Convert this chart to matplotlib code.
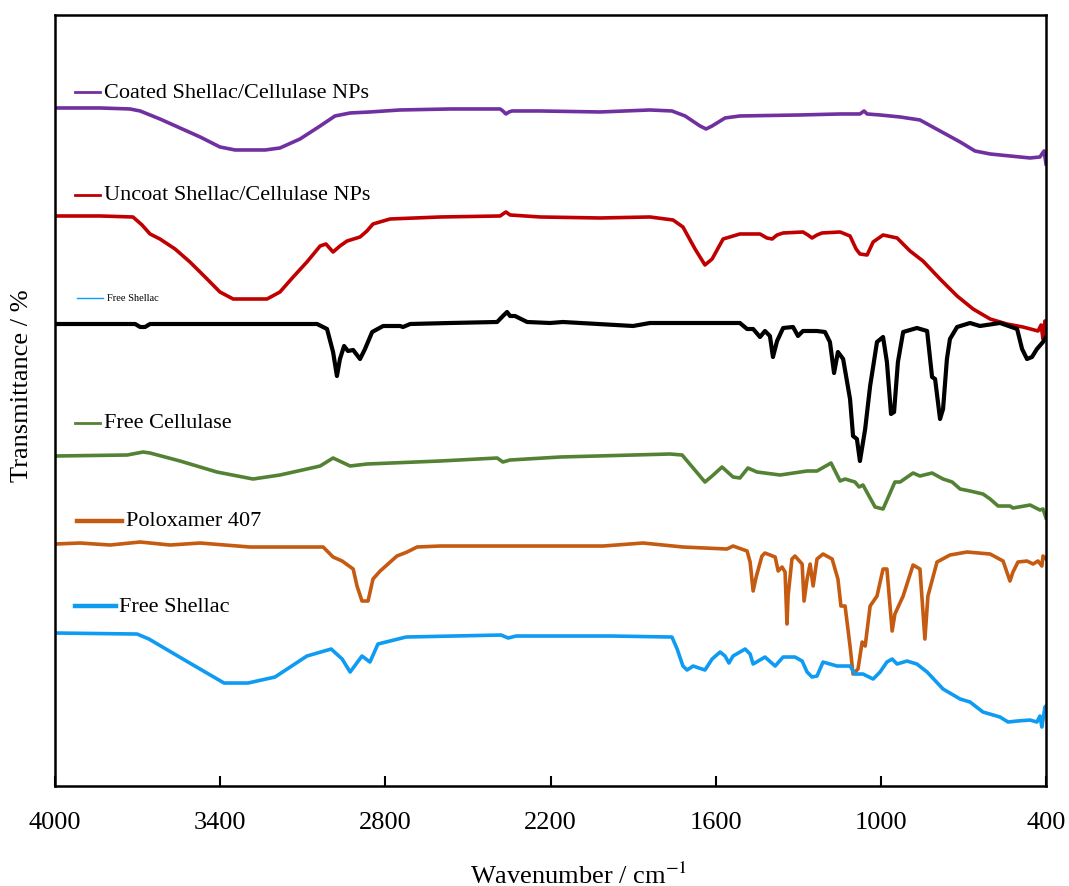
import matplotlib.pyplot as plt
import numpy as np

plt.rcParams['font.family'] = ['Liberation Serif', 'DejaVu Serif']
plt.rcParams['mathtext.fontset'] = 'stix'

# spectra: wavenumber (cm-1) and stacked transmittance (a.u.)
coated_w = [4000, 3837, 3728, 3691, 3619, 3546, 3473, 3401, 3346, 3237, 3183, 3110, 3037, 2983,
            2928, 2856, 2747, 2565, 2383, 2373, 2362, 2351, 2340, 2238, 2020, 1839, 1759, 1711,
            1657, 1635, 1613, 1566, 1512, 1294, 1148, 1076, 1061, 1050, 1003, 930, 858, 785, 712,
            658, 603, 531, 458, 422, 415, 407, 400]
coated_t = [678, 678, 677, 675, 667, 658, 649, 639, 636, 636, 638, 647, 660, 670,
            673, 674, 676, 677, 677, 675, 672, 674, 675, 675, 674, 676, 675, 670,
            660, 657, 660, 668, 670, 671, 672, 672, 675, 672, 671, 669, 666, 655, 644,
            635, 632, 630, 628, 629, 632, 635, 622]

uncoat_w = [4000, 3837, 3717, 3684, 3655, 3619, 3564, 3510, 3455, 3401, 3353, 3230, 3183, 3135,
            3085, 3037, 3016, 2990, 2965, 2939, 2892, 2867, 2845, 2783, 2601, 2383, 2373, 2362,
            2347, 2238, 2020, 1839, 1755, 1719, 1675, 1639, 1613, 1573, 1512, 1439, 1414, 1395,
            1377, 1355, 1283, 1265, 1250, 1232, 1214, 1148, 1112, 1090, 1076, 1050, 1028, 992,
            941, 894, 847, 785, 723, 665, 603, 542, 484, 429, 418, 411, 404, 400]
uncoat_t = [570, 570, 569, 561, 552, 547, 537, 524, 509, 494, 487, 487, 494, 509,
            524, 540, 542, 534, 540, 545, 549, 555, 562, 567, 569, 570, 572, 574,
            571, 569, 568, 569, 566, 559, 537, 521, 527, 547, 552, 552, 548, 547,
            551, 553, 554, 551, 548, 551, 553, 554, 550, 537, 532, 531, 544, 551,
            548, 535, 525, 507, 490, 477, 467, 462, 459, 455, 461, 447, 465, 452]

black_w = [4000, 3709, 3691, 3673, 3655, 3048, 3012, 2990, 2976, 2965, 2950, 2936, 2917, 2892,
           2874, 2848, 2808, 2747, 2736, 2710, 2565, 2394, 2373, 2358, 2347, 2329, 2285, 2202,
           2155, 1900, 1839, 1512, 1486, 1464, 1439, 1421, 1403, 1392, 1377, 1355, 1319, 1301,
           1283, 1232, 1203, 1185, 1170, 1156, 1137, 1112, 1101, 1087, 1076, 1057, 1039, 1014,
           992, 978, 963, 952, 938, 919, 869, 832, 814, 803, 785, 774, 760, 749, 723, 676, 640,
           567, 505, 487, 469, 451, 433, 411, 400]
black_t = [462, 462, 459, 459, 462, 462, 457, 434, 410, 427, 440, 435, 436, 427,
           437, 454, 460, 460, 459, 462, 463, 464, 470, 474, 470, 470, 464, 463,
           464, 460, 463, 463, 457, 457, 449, 455, 450, 429, 445, 458, 459, 450,
           455, 455, 454, 444, 413, 434, 427, 387, 350, 347, 325, 357, 400, 444,
           449, 424, 372, 374, 424, 454, 458, 455, 409, 407, 367, 377, 427, 447, 459, 463, 460,
           463, 457, 437, 427, 429, 437, 444, 449]

cellulase_w = [4000, 3738, 3680, 3655, 3546, 3412, 3281, 3183, 3085, 3037, 2990, 2928, 2867, 2601,
               2394, 2373, 2347, 2165, 1766, 1722, 1639, 1613, 1577, 1537, 1512, 1483, 1450, 1366,
               1268, 1232, 1181, 1148, 1130, 1094, 1079, 1065, 1021, 992, 949, 930, 883, 858, 814,
               774, 741, 712, 676, 629, 603, 574, 531, 520, 458, 422, 411, 400]
cellulase_t = [330, 331, 334, 333, 325, 314, 307, 311, 317, 320, 328, 320, 322, 325,
               328, 324, 326, 329, 332, 331, 304, 310, 319, 309, 308, 318, 314, 311,
               315, 315, 323, 305, 307, 304, 299, 301, 279, 277, 304, 304, 313, 310, 313,
               307, 304, 297, 295, 292, 287, 280, 280, 278, 281, 276, 277, 268]

polox_w = [4000, 3909, 3800, 3691, 3582, 3473, 3292, 3026, 2990, 2957, 2917, 2903, 2885, 2863,
           2845, 2819, 2758, 2721, 2685, 2601, 2009, 1864, 1719, 1559, 1537, 1486, 1475, 1464,
           1453, 1432, 1421, 1384, 1373, 1359, 1348, 1341, 1337, 1323, 1312, 1286, 1279, 1268,
           1257, 1246, 1232, 1210, 1177, 1156, 1145, 1130, 1112, 1101, 1083, 1068, 1057, 1039,
           1014, 992, 978, 959, 949, 919, 883, 858, 840, 829, 796, 749, 687, 603, 556, 531, 520,
           502, 469, 447, 429, 415, 411, 400]
polox_t = [242, 243, 241, 244, 241, 243, 239, 239, 229, 225, 217, 200, 185, 185,
           207, 215, 230, 234, 239, 240, 240, 243, 239, 237, 240, 235, 224, 195,
           209, 230, 233, 229, 215, 219, 214, 162, 190, 227, 230, 222, 185, 207,
           222, 200, 227, 232, 227, 207, 180, 180, 140, 112, 117, 144, 140, 180,
           190, 217, 217, 155, 172, 190, 221, 217, 147, 190, 224, 231, 234, 232, 225, 205, 214,
           224, 225, 222, 225, 220, 230, 227]

shellac_w = [4000, 3702, 3659, 3517, 3386, 3299, 3201, 3085, 2997, 2957, 2928, 2885, 2856, 2827,
             2725, 2380, 2354, 2325, 1980, 1759, 1740, 1719, 1704, 1682, 1639, 1613, 1584, 1566,
             1552, 1537, 1493, 1475, 1464, 1421, 1384, 1355, 1312, 1286, 1268, 1250, 1232, 1210,
             1159, 1112, 1094, 1065, 1050, 1028, 1003, 978, 959, 941, 905, 869, 832, 774, 712,
             676, 629, 567, 538, 505, 458, 433, 422, 415, 404, 400]
shellac_t = [153, 152, 147, 124, 103, 103, 109, 130, 137, 127, 114, 130, 124, 142,
             149, 151, 148, 150, 150, 149, 137, 120, 116, 120, 116, 127, 134, 130,
             123, 130, 137, 132, 122, 129, 120, 129, 129, 125, 114, 109, 110, 124,
             120, 120, 112, 112, 110, 107, 114, 124, 127, 122, 125, 122, 114, 97, 87,
             84, 74, 69, 64, 65, 66, 64, 70, 59, 79, 80]

series = [
    ('Coated Shellac/Cellulase NPs', coated_w, coated_t, '#7030A0', 2.6),
    ('Uncoat Shellac/Cellulase NPs', uncoat_w, uncoat_t, '#C00000', 2.6),
    ('Free Shellac', black_w, black_t, 'black', 3.0),
    ('Free Cellulase', cellulase_w, cellulase_t, '#548235', 2.6),
    ('Poloxamer 407', polox_w, polox_t, '#C55A11', 2.6),
    ('Free Shellac', shellac_w, shellac_t, '#0E9BF2', 2.6),
]

fig = plt.figure(figsize=(10.69, 8.87), dpi=100)
ax = fig.add_axes([0.0515, 0.1127, 0.927, 0.8693])

for name, w, t, c, lw in series:
    ax.plot(w, t, color=c, lw=lw, solid_joinstyle='round')

# inline legend entries (axes fraction)
keys = [
    ('Coated Shellac/Cellulase NPs', '#7030A0', 0.020, 0.045, 0.900, 16, 2.0),
    ('Uncoat Shellac/Cellulase NPs', '#C00000', 0.020, 0.045, 0.767, 16, 2.0),
    ('Free Shellac', '#0E9BF2', 0.022, 0.048, 0.633, 7.5, 1.0),
    ('Free Cellulase', '#548235', 0.020, 0.045, 0.471, 16, 2.0),
    ('Poloxamer 407', '#C55A11', 0.022, 0.068, 0.344, 16, 3.2),
    ('Free Shellac', '#0E9BF2', 0.020, 0.061, 0.233, 16, 3.2),
]
for txt, c, x0, x1, y, fs, lw in keys:
    ax.plot([x0, x1], [y, y], color=c, lw=lw, transform=ax.transAxes)
    ax.text(x1 + 0.004, y, txt, fontsize=fs, va='center', ha='left',
            transform=ax.transAxes)

ax.set_xlim(4000, 400)
ax.set_ylim(0, 771)
ax.set_xticks(np.arange(4000, 399, -600))
ax.set_yticks([])
ax.tick_params(axis='x', direction='in', length=7, width=1.5, labelsize=19, pad=18)
for s in ax.spines.values():
    s.set_linewidth(1.8)

ax.set_xlabel('Wavenumber / cm$^{-1}$', fontsize=19, va='center')
ax.xaxis.set_label_coords(0.528, -0.115)
ax.set_ylabel('Transmittance / %', fontsize=19, va='center')
ax.yaxis.set_label_coords(-0.033, 0.521)

fig.savefig('out.png', dpi=100)
